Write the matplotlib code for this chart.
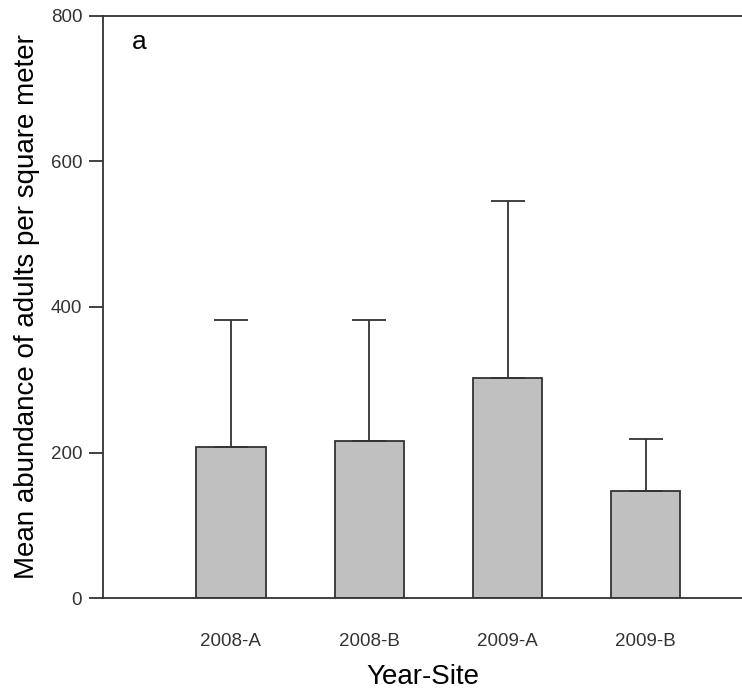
import matplotlib
matplotlib.use("Agg")
import matplotlib.pyplot as plt

categories = ["2008-A", "2008-B", "2009-A", "2009-B"]
means = [208, 216, 303, 147]
errors = [174, 166, 242, 72]

plt.rcParams['font.family'] = ['Liberation Sans', 'DejaVu Sans']

fig = plt.figure(figsize=(7.42, 6.91), dpi=100)
ax = fig.add_axes([0.1388, 0.1342, 0.8612, 0.8431])

x = list(range(len(categories)))
ax.bar(x, means, width=0.5, color='#c0c0c0', edgecolor='#333333', linewidth=1.3,
       yerr=[[0]*len(errors), errors], capsize=12,
       error_kw=dict(ecolor='#333333', elinewidth=1.3, capthick=1.3))

ax.set_xlim(-0.925, 3.695)
ax.set_ylim(0, 800)
ax.set_yticks([0, 200, 400, 600, 800])
ax.set_xticks(x)
ax.set_xticklabels(categories)

for s in ['left', 'top', 'bottom']:
    ax.spines[s].set_color('#333333')
    ax.spines[s].set_linewidth(1.3)
ax.spines['right'].set_visible(False)

ax.tick_params(axis='y', direction='out', length=10, width=1.3, color='#333333',
               labelsize=13.5, labelcolor='#333333', pad=5)
ax.tick_params(axis='x', length=0, labelsize=13.5, labelcolor='#333333', pad=25)

ax.set_ylabel("Mean abundance of adults per square meter", fontsize=20, labelpad=8)
ax.set_xlabel("Year-Site", fontsize=20, labelpad=10)

ax.text(-0.66, 764, "a", fontsize=19, ha='center', va='center')

fig.savefig("out.png", dpi=100)
